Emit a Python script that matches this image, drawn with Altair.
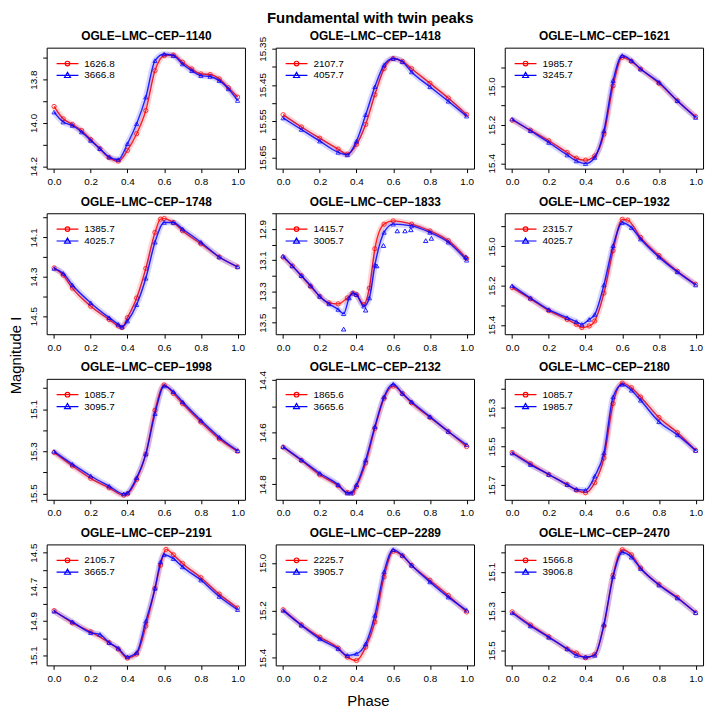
import altair as alt
import pandas as pd

RED = "#FF0000"
BLUE = "#0000FF"
FONT = "Liberation Sans"

X_TICKS = [0.0, 0.2, 0.4, 0.6, 0.8, 1.0]
PHASE_STD = [0.0, 0.1, 0.2, 0.3, 0.35, 0.4, 0.45, 0.5, 0.55, 0.6, 0.65, 0.7, 0.8, 0.9, 1.0]

# ---------------- OGLE-LMC-CEP-1140 ----------------
P1140_PHASE = [0.0, 0.05, 0.1, 0.15, 0.2, 0.25, 0.3, 0.35, 0.4, 0.45, 0.5,
               0.55, 0.6, 0.65, 0.7, 0.75, 0.8, 0.85, 0.9, 0.95, 1.0]
P1140_RED = [13.924, 13.981, 14.007, 14.035, 14.077, 14.119, 14.160, 14.176, 14.127, 14.050, 13.943,
             13.759, 13.690, 13.687, 13.720, 13.751, 13.774, 13.777, 13.797, 13.838, 13.881]
P1140_BLUE = [13.950, 13.996, 14.012, 14.042, 14.081, 14.119, 14.157, 14.169, 14.096, 14.004, 13.881,
              13.713, 13.682, 13.690, 13.728, 13.759, 13.782, 13.786, 13.805, 13.843, 13.897]

# ---------------- OGLE-LMC-CEP-1418 ----------------
P1418_RED = [15.532, 15.566, 15.597, 15.627, 15.641, 15.614, 15.559, 15.477, 15.405, 15.377, 15.385, 15.405, 15.445, 15.486, 15.532]
P1418_BLUE = [15.541, 15.573, 15.605, 15.636, 15.643, 15.605, 15.532, 15.455, 15.395, 15.377, 15.386, 15.414, 15.455, 15.495, 15.536]

# ---------------- OGLE-LMC-CEP-1621 ----------------
P1621_RED = [15.176, 15.228, 15.283, 15.344, 15.374, 15.384, 15.362, 15.249, 14.997, 14.849, 14.870, 14.910, 14.984, 15.075, 15.158]
P1621_BLUE = [15.170, 15.231, 15.292, 15.357, 15.388, 15.402, 15.370, 15.231, 14.970, 14.840, 14.866, 14.910, 14.979, 15.075, 15.162]

# ---------------- OGLE-LMC-CEP-1748 ----------------
P1748_RED_PHASE = [0.0, 0.05, 0.1, 0.2, 0.3, 0.35, 0.37, 0.4, 0.45, 0.5, 0.55, 0.58, 0.6, 0.65, 0.7, 0.8, 0.9, 1.0]
P1748_RED = [14.255, 14.292, 14.358, 14.450, 14.517, 14.550, 14.558, 14.508, 14.408, 14.258, 14.075, 14.008, 14.005, 14.025, 14.067, 14.133, 14.200, 14.250]
P1748_BLUE_PHASE = [0.0, 0.05, 0.1, 0.2, 0.3, 0.35, 0.37, 0.4, 0.45, 0.5, 0.55, 0.6, 0.65, 0.7, 0.8, 0.9, 1.0]
P1748_BLUE = [14.258, 14.283, 14.342, 14.433, 14.508, 14.542, 14.555, 14.525, 14.442, 14.308, 14.125, 14.025, 14.025, 14.058, 14.125, 14.200, 14.250]

# ---------------- OGLE-LMC-CEP-1833 ----------------
P1833_RED_PHASE = [0.0, 0.05, 0.1, 0.15, 0.2, 0.25, 0.3, 0.35, 0.38, 0.4, 0.44, 0.47, 0.5, 0.55, 0.6, 0.7, 0.8, 0.9, 1.0]
P1833_RED = [13.079, 13.136, 13.199, 13.268, 13.332, 13.374, 13.380, 13.342, 13.311, 13.321, 13.384, 13.279, 13.026, 12.868, 12.847, 12.868, 12.911, 12.974, 13.089]
P1833_BLUE_PHASE = [0.0, 0.05, 0.1, 0.15, 0.2, 0.25, 0.3, 0.33, 0.36, 0.38, 0.4, 0.44, 0.47, 0.5, 0.55, 0.6, 0.7, 0.8, 0.9, 1.0]
P1833_BLUE = [13.073, 13.136, 13.199, 13.262, 13.332, 13.380, 13.416, 13.443, 13.342, 13.311, 13.321, 13.395, 13.342, 13.132, 12.921, 12.868, 12.879, 12.921, 12.984, 13.100]
P1833_BLUE_OUT_PHASE = [0.33, 0.45, 0.51, 0.547, 0.622, 0.664, 0.696, 0.777, 0.808, 0.996]
P1833_BLUE_OUT = [13.542, 13.420, 13.136, 13.005, 12.911, 12.911, 12.904, 12.974, 12.959, 13.079]

# ---------------- OGLE-LMC-CEP-1932 ----------------
P1932_RED_PHASE = [0.0, 0.1, 0.2, 0.3, 0.35, 0.38, 0.42, 0.45, 0.5, 0.55, 0.6, 0.63, 0.7, 0.8, 0.9, 1.0]
P1932_RED = [15.210, 15.267, 15.327, 15.372, 15.397, 15.413, 15.405, 15.380, 15.238, 15.022, 14.863, 14.867, 14.955, 15.047, 15.127, 15.193]
P1932_BLUE_PHASE = [0.0, 0.1, 0.2, 0.3, 0.35, 0.38, 0.42, 0.45, 0.5, 0.55, 0.6, 0.65, 0.7, 0.8, 0.9, 1.0]
P1932_BLUE = [15.200, 15.263, 15.322, 15.363, 15.383, 15.397, 15.372, 15.347, 15.197, 14.997, 14.880, 14.905, 14.963, 15.055, 15.130, 15.197]

# ---------------- OGLE-LMC-CEP-1998 ----------------
P1998_PHASE = [0.0, 0.1, 0.2, 0.3, 0.38, 0.4, 0.45, 0.5, 0.55, 0.6, 0.65, 0.7, 0.8, 0.9, 1.0]
P1998_RED = [15.305, 15.369, 15.428, 15.473, 15.508, 15.502, 15.433, 15.313, 15.105, 14.985, 15.025, 15.073, 15.161, 15.241, 15.300]
P1998_BLUE = [15.300, 15.361, 15.417, 15.465, 15.502, 15.497, 15.425, 15.313, 15.121, 14.990, 15.017, 15.065, 15.153, 15.233, 15.297]

# ---------------- OGLE-LMC-CEP-2132 ----------------
P2132_RED_PHASE = [0.0, 0.1, 0.2, 0.3, 0.35, 0.38, 0.4, 0.45, 0.5, 0.55, 0.6, 0.65, 0.7, 0.8, 0.9, 1.0]
P2132_RED = [14.657, 14.708, 14.763, 14.805, 14.831, 14.833, 14.808, 14.718, 14.585, 14.470, 14.423, 14.451, 14.487, 14.543, 14.597, 14.655]
P2132_BLUE_PHASE = [0.0, 0.1, 0.2, 0.3, 0.35, 0.37, 0.4, 0.45, 0.5, 0.55, 0.6, 0.65, 0.7, 0.8, 0.9, 1.0]
P2132_BLUE = [14.655, 14.706, 14.757, 14.801, 14.833, 14.833, 14.801, 14.706, 14.578, 14.464, 14.415, 14.451, 14.483, 14.540, 14.597, 14.648]

# ---------------- OGLE-LMC-CEP-2180 ----------------
P2180_RED = [15.531, 15.589, 15.645, 15.697, 15.726, 15.739, 15.688, 15.560, 15.278, 15.172, 15.196, 15.244, 15.350, 15.428, 15.521]
P2180_BLUE = [15.534, 15.594, 15.645, 15.697, 15.722, 15.726, 15.654, 15.534, 15.244, 15.179, 15.209, 15.261, 15.372, 15.440, 15.521]

# ---------------- OGLE-LMC-CEP-2191 ----------------
P2191_RED_PHASE = [0.0, 0.1, 0.2, 0.3, 0.35, 0.4, 0.45, 0.5, 0.55, 0.58, 0.61, 0.65, 0.7, 0.8, 0.9, 1.0]
P2191_RED = [14.838, 14.910, 14.962, 15.025, 15.063, 15.115, 15.092, 14.929, 14.708, 14.573, 14.481, 14.512, 14.563, 14.646, 14.742, 14.823]
P2191_BLUE_PHASE = [0.0, 0.1, 0.2, 0.25, 0.3, 0.35, 0.4, 0.45, 0.5, 0.55, 0.58, 0.6, 0.65, 0.7, 0.8, 0.9, 1.0]
P2191_BLUE = [14.842, 14.904, 14.967, 14.977, 15.025, 15.058, 15.108, 15.083, 14.900, 14.708, 14.554, 14.512, 14.535, 14.583, 14.660, 14.756, 14.833]

# ---------------- OGLE-LMC-CEP-2289 ----------------
P2289_RED = [15.197, 15.261, 15.313, 15.359, 15.397, 15.411, 15.355, 15.249, 15.059, 14.951, 14.970, 15.010, 15.073, 15.137, 15.207]
P2289_BLUE = [15.200, 15.263, 15.320, 15.362, 15.390, 15.383, 15.341, 15.221, 15.038, 14.944, 14.968, 15.010, 15.080, 15.144, 15.200]

# ---------------- OGLE-LMC-CEP-2470 ----------------
P2470_RED = [15.303, 15.370, 15.430, 15.492, 15.513, 15.537, 15.520, 15.375, 15.117, 14.987, 15.013, 15.080, 15.163, 15.230, 15.308]
P2470_BLUE = [15.308, 15.375, 15.433, 15.492, 15.525, 15.533, 15.525, 15.367, 15.125, 15.000, 15.025, 15.083, 15.167, 15.233, 15.308]

# star names, legend labels (red, blue), y ranges (top, bottom), y ticks, labelled ticks
NAMES = ["OGLE−LMC−CEP−1140", "OGLE−LMC−CEP−1418", "OGLE−LMC−CEP−1621",
         "OGLE−LMC−CEP−1748", "OGLE−LMC−CEP−1833", "OGLE−LMC−CEP−1932",
         "OGLE−LMC−CEP−1998", "OGLE−LMC−CEP−2132", "OGLE−LMC−CEP−2180",
         "OGLE−LMC−CEP−2191", "OGLE−LMC−CEP−2289", "OGLE−LMC−CEP−2470"]
LABEL_RED = ["1626.8", "2107.7", "1985.7", "1385.7", "1415.7", "2315.7",
             "1085.7", "1865.6", "1085.7", "2105.7", "2225.7", "1566.8"]
LABEL_BLUE = ["3666.8", "4057.7", "3245.7", "4025.7", "3005.7", "4025.7",
              "3095.7", "3665.6", "1985.7", "3665.7", "3905.7", "3906.8"]
Y_RANGE = [(13.653, 14.211), (15.347, 15.681), (14.799, 15.428),
           (13.978, 14.592), (12.798, 13.575), (14.832, 15.447),
           (14.956, 15.530), (14.395, 14.859), (15.150, 15.776),
           (14.452, 15.158), (14.922, 15.432), (14.960, 15.576)]
Y_TICKS = [[13.7, 13.8, 13.9, 14.0, 14.1, 14.2],
           [15.35, 15.40, 15.45, 15.50, 15.55, 15.60, 15.65],
           [14.9, 15.0, 15.1, 15.2, 15.3, 15.4],
           [14.0, 14.1, 14.2, 14.3, 14.4, 14.5],
           [12.8, 12.9, 13.0, 13.1, 13.2, 13.3, 13.4, 13.5],
           [14.9, 15.0, 15.1, 15.2, 15.3, 15.4],
           [15.0, 15.1, 15.2, 15.3, 15.4, 15.5],
           [14.4, 14.5, 14.6, 14.7, 14.8],
           [15.2, 15.3, 15.4, 15.5, 15.6, 15.7],
           [14.5, 14.6, 14.7, 14.8, 14.9, 15.0, 15.1],
           [15.0, 15.1, 15.2, 15.3, 15.4],
           [15.0, 15.1, 15.2, 15.3, 15.4, 15.5]]
Y_LABELS = [["13.8", "14.0", "14.2"], ["15.35", "15.45", "15.55", "15.65"],
            ["15.0", "15.2", "15.4"], ["14.1", "14.3", "14.5"],
            ["12.9", "13.1", "13.3", "13.5"], ["15.0", "15.2", "15.4"],
            ["15.1", "15.3", "15.5"], ["14.4", "14.6", "14.8"],
            ["15.3", "15.5", "15.7"], ["14.5", "14.7", "14.9", "15.1"],
            ["15.0", "15.2", "15.4"], ["15.1", "15.3", "15.5"]]
Y_FORMAT = [".1f", ".2f", ".1f", ".1f", ".1f", ".1f", ".1f", ".1f", ".1f", ".1f", ".1f", ".1f"]

SERIES = [
    (P1140_PHASE, P1140_RED, P1140_PHASE, P1140_BLUE),
    (PHASE_STD, P1418_RED, PHASE_STD, P1418_BLUE),
    (PHASE_STD, P1621_RED, PHASE_STD, P1621_BLUE),
    (P1748_RED_PHASE, P1748_RED, P1748_BLUE_PHASE, P1748_BLUE),
    (P1833_RED_PHASE, P1833_RED, P1833_BLUE_PHASE, P1833_BLUE),
    (P1932_RED_PHASE, P1932_RED, P1932_BLUE_PHASE, P1932_BLUE),
    (P1998_PHASE, P1998_RED, P1998_PHASE, P1998_BLUE),
    (P2132_RED_PHASE, P2132_RED, P2132_BLUE_PHASE, P2132_BLUE),
    (PHASE_STD, P2180_RED, PHASE_STD, P2180_BLUE),
    (P2191_RED_PHASE, P2191_RED, P2191_BLUE_PHASE, P2191_BLUE),
    (PHASE_STD, P2289_RED, PHASE_STD, P2289_BLUE),
    (PHASE_STD, P2470_RED, PHASE_STD, P2470_BLUE),
]

# legend symbols: line with open circle / open triangle
PATH_CIRCLE = "M-2.2,0L2.2,0M0.46,0A0.46,0.46,0,1,1,-0.46,0A0.46,0.46,0,1,1,0.46,0"
PATH_TRIANGLE = "M-2.2,0L2.2,0M0,-0.62L0.6,0.42L-0.6,0.42Z"

W, H = 200, 122


def make_panel(i):
    ph_r, mg_r, ph_b, mg_b = SERIES[i]
    red = pd.DataFrame({"phase": ph_r, "mag": mg_r})
    blue = pd.DataFrame({"phase": ph_b, "mag": mg_b})
    lab_r, lab_b = LABEL_RED[i], LABEL_BLUE[i]

    label_list = ",".join("'" + s + "'" for s in Y_LABELS[i])
    y_axis_kw = dict(values=Y_TICKS[i], format=Y_FORMAT[i], orient="left",
                     labelExpr="indexof([" + label_list + "], datum.label) >= 0 ? datum.label : ''",
                     labelAngle=270, labelAlign="center", labelBaseline="bottom",
                     labelPadding=4, tickSize=4)
    if i == 3:
        y_axis_kw.update(title="Magnitude I", titleAngle=270, titleX=-31, titleY=143,
                         titleAlign="center", titleBaseline="middle",
                         titleFontSize=15, titleFontWeight="normal", titleFont=FONT, titleColor="black")
    else:
        y_axis_kw.update(title=None)

    x_axis_kw = dict(values=X_TICKS, format=".1f", tickSize=4, labelPadding=4, orient="bottom")
    if i == 10:
        x_axis_kw.update(title="Phase", titleX=93, titlePadding=10, titleFontSize=15,
                         titleFontWeight="normal", titleFont=FONT, titleColor="black")
    else:
        x_axis_kw.update(title=None)

    xscale = alt.Scale(domain=[-0.04, 1.04], nice=False, zero=False)
    x = alt.X("phase:Q", scale=xscale, axis=alt.Axis(**x_axis_kw))
    # top axis carrying only the panel title
    x_top = alt.X("phase:Q", scale=xscale,
                  axis=alt.Axis(orient="top", title=NAMES[i], labels=False, ticks=False, domain=False,
                                titleFontSize=12, titleFontWeight="bold", titleFont=FONT,
                                titleColor="black", titlePadding=5))
    y = alt.Y("mag:Q", scale=alt.Scale(domain=[Y_RANGE[i][0], Y_RANGE[i][1]], reverse=True,
                                       nice=False, zero=False),
              axis=alt.Axis(**y_axis_kw))

    layers = []
    for df, col, shp in ((red, RED, "circle"), (blue, BLUE, "triangle-up")):
        layers.append(alt.Chart(df).mark_line(interpolate="monotone", color=col,
                                              strokeWidth=6, opacity=0.16).encode(x=x, y=y))
        layers.append(alt.Chart(df).mark_line(interpolate="monotone", color=col,
                                              strokeWidth=1.4, opacity=0.85).encode(x=x, y=y))
        layers.append(alt.Chart(df).mark_point(shape=shp, filled=False, color=col, size=18,
                                               strokeWidth=1, opacity=0.75).encode(x=x, y=y))
    if i == 4:
        outl = pd.DataFrame({"phase": P1833_BLUE_OUT_PHASE, "mag": P1833_BLUE_OUT})
        layers.append(alt.Chart(outl).mark_point(shape="triangle-up", filled=False, color=BLUE,
                                                 size=20, strokeWidth=1, opacity=0.9).encode(x=x, y=y))

    leg_df = pd.DataFrame({"phase": [0.5, 0.5], "mag": [Y_RANGE[i][0]] * 2,
                           "series": [lab_r, lab_b]})
    legend = alt.Legend(title=None, orient="none", legendX=15, legendY=10, padding=0,
                        symbolSize=100, symbolStrokeWidth=1.2, symbolFillColor="transparent",
                        symbolOpacity=1, labelFontSize=10, labelFont=FONT, labelColor="black",
                        labelOffset=11, rowPadding=1)
    legend_layer = alt.Chart(leg_df).transform_filter("datum.phase > 5").mark_point(filled=False).encode(
        x=x_top, y=y,
        color=alt.Color("series:N", scale=alt.Scale(domain=[lab_r, lab_b], range=[RED, BLUE]),
                        legend=legend),
        shape=alt.Shape("series:N", scale=alt.Scale(domain=[lab_r, lab_b],
                                                    range=[PATH_CIRCLE, PATH_TRIANGLE]),
                        legend=legend),
    )
    return alt.layer(alt.layer(*layers), legend_layer).properties(width=W, height=H)


panels = [make_panel(i) for i in range(12)]

chart = alt.concat(
    *panels, columns=3, spacing={"row": 45, "column": 31}, bounds="flush",
    title=alt.TitleParams("Fundamental with twin peaks", fontSize=15, fontWeight="bold",
                          font=FONT, color="black", anchor="middle", offset=3, dx=12),
).resolve_scale(
    x="independent", y="independent", color="independent", shape="independent"
).resolve_legend(
    color="independent", shape="independent"
).properties(
    padding={"left": 0, "top": 0, "right": 0, "bottom": 0}
).configure_view(
    stroke="black", strokeWidth=1
).configure_axis(
    grid=False, tickColor="black", tickWidth=1,
    labelColor="black", labelFont=FONT, labelFontSize=10
).configure_axisLeft(domain=False).configure_axisBottom(domain=False)

chart.save("out.html", embed_options={"renderer": "svg", "actions": False})
